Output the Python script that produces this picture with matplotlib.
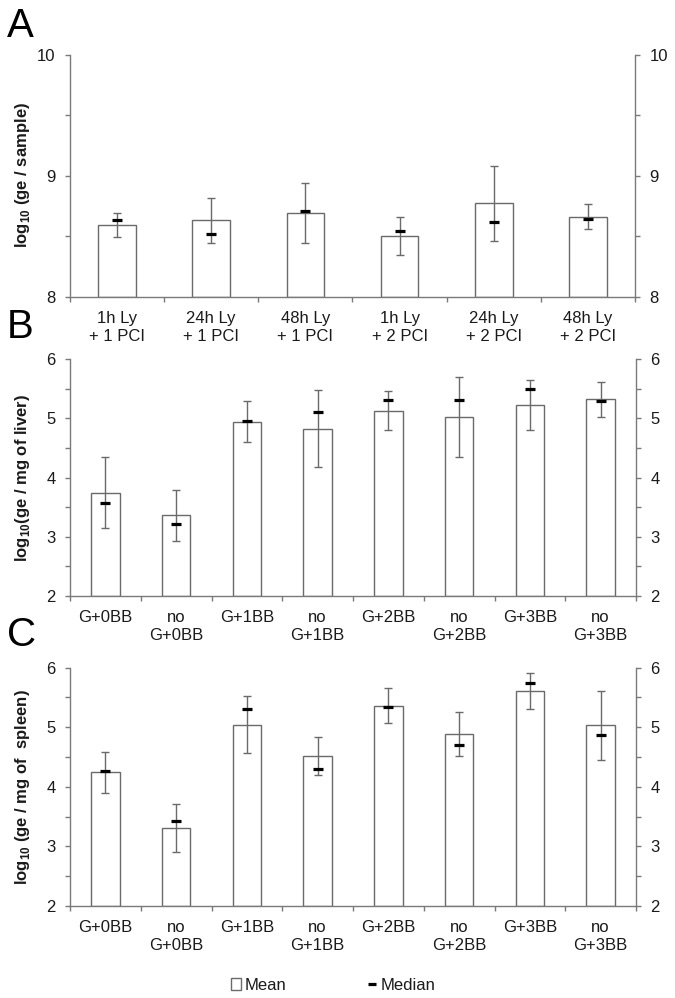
import matplotlib
matplotlib.use("Agg")
import matplotlib.pyplot as plt
import numpy as np
from matplotlib.patches import Rectangle
from matplotlib.lines import Line2D

plt.rcParams['font.family'] = ['Liberation Sans', 'DejaVu Sans']
plt.rcParams['mathtext.fontset'] = 'custom'
plt.rcParams['mathtext.rm'] = 'Liberation Sans:bold'
plt.rcParams['mathtext.bf'] = 'Liberation Sans:bold'

# ---------------- data ----------------
cats_a = ["1h Ly\n+ 1 PCI", "24h Ly\n+ 1 PCI", "48h Ly\n+ 1 PCI",
          "1h Ly\n+ 2 PCI", "24h Ly\n+ 2 PCI", "48h Ly\n+ 2 PCI"]
mean_a = [8.59, 8.63, 8.69, 8.50, 8.77, 8.66]
sd_a = [0.10, 0.185, 0.25, 0.155, 0.31, 0.105]
median_a = [8.63, 8.52, 8.71, 8.54, 8.62, 8.64]

cats_bc = ["G+0BB", "no\nG+0BB", "G+1BB", "no\nG+1BB",
           "G+2BB", "no\nG+2BB", "G+3BB", "no\nG+3BB"]
mean_b = [3.74, 3.36, 4.94, 4.82, 5.13, 5.02, 5.22, 5.32]
sd_b = [0.60, 0.43, 0.345, 0.65, 0.33, 0.67, 0.42, 0.30]
median_b = [3.57, 3.22, 4.96, 5.11, 5.30, 5.30, 5.50, 5.29]

mean_c = [4.24, 3.31, 5.04, 4.51, 5.36, 4.88, 5.61, 5.03]
sd_c = [0.35, 0.40, 0.48, 0.32, 0.29, 0.37, 0.30, 0.58]
median_c = [4.27, 3.42, 5.31, 4.29, 5.33, 4.70, 5.74, 4.86]

ylim_a = (8, 10)
ylim_bc = (2, 6)

# ---------------- style ----------------
W, H = 675, 998
AXIS_C = '#7a7a7a'
BAR_EDGE = '#6a6a6a'
ERR_C = '#6a6a6a'
TXT = '#1a1a1a'

fig = plt.figure(figsize=(W / 100, H / 100), dpi=100)


def px_axes(left, right, top, bottom):
    return fig.add_axes([left / W, 1 - bottom / H, (right - left) / W, (bottom - top) / H])


def panel(ax, cats, means, sds, medians, ylim, ylabel, label_y):
    x = np.arange(len(cats))
    ax.bar(x, [m - ylim[0] for m in means], bottom=ylim[0], width=0.4,
           color='white', edgecolor=BAR_EDGE, linewidth=1.0, zorder=2)
    ax.errorbar(x, means, yerr=sds, fmt='none', ecolor=ERR_C, elinewidth=1.0,
                capsize=2.8, capthick=1.0, zorder=3)
    ax.plot(x, medians, linestyle='none', marker='_', markersize=7,
            markeredgewidth=2.3, color='black', zorder=4)
    ax.set_xlim(-0.5, len(cats) - 0.5)
    ax.set_ylim(*ylim)
    major = np.arange(ylim[0], ylim[1] + 0.01, 1.0)
    minor = np.arange(ylim[0], ylim[1] + 0.01, 0.5)
    ax.set_yticks(major)
    ax.set_yticks(minor, minor=True)
    ax.set_yticklabels([str(int(v)) for v in major])
    ax.set_xticks(x)
    ax.set_xticklabels(cats)
    ax.set_xticks(np.arange(-0.5, len(cats)), minor=True)
    for s in ['left', 'right', 'bottom']:
        ax.spines[s].set_color(AXIS_C)
        ax.spines[s].set_linewidth(1.0)
    ax.spines['top'].set_visible(False)
    ax.tick_params(axis='x', which='major', length=0, pad=10, labelsize=12, labelcolor=TXT)
    ax.tick_params(axis='x', which='minor', length=3.5, color=AXIS_C, width=1.0, direction='out')
    ax.tick_params(axis='y', which='both', length=3.5, color=AXIS_C, width=1.0, direction='out',
                   left=True, right=True, labelleft=True, labelright=True,
                   pad=7, labelsize=12, labelcolor=TXT)
    for lab in ax.get_xticklabels():
        lab.set_linespacing(1.3)
    fig.text(23 / W, 1 - label_y / H, ylabel, rotation=90, ha='center', va='center',
             fontsize=12, fontweight='bold', color=TXT)


axA = px_axes(70, 635, 54.5, 296.7)
panel(axA, cats_a, mean_a, sd_a, median_a, ylim_a,
      r"log$_{\mathrm{10}}$ (ge / sample)", 175)

axB = px_axes(70, 636, 359, 596)
panel(axB, cats_bc, mean_b, sd_b, median_b, ylim_bc,
      r"log$_{\mathrm{10}}$(ge / mg of liver)", 478)

axC = px_axes(70, 636, 667.5, 906)
panel(axC, cats_bc, mean_c, sd_c, median_c, ylim_bc,
      r"log$_{\mathrm{10}}$ (ge / mg of  spleen)", 787)

# panel letters
for letter, yb in [("A", 37), ("B", 338), ("C", 646)]:
    fig.text(7 / W, 1 - yb / H, letter, fontsize=29, ha='left', va='baseline', color='black')

# legend
h_mean = Rectangle((0, 0), 1, 1, facecolor='white', edgecolor=BAR_EDGE, linewidth=1.0)
h_med = Line2D([], [], linestyle='none', marker='_', markersize=6, markeredgewidth=2.3, color='black')
fig.legend([h_mean, h_med], ["Mean", "Median"], loc='center', ncol=2,
           bbox_to_anchor=(333 / W, 1 - 985 / H), frameon=False, fontsize=12,
           handlelength=0.6, handleheight=0.7, handletextpad=0.2, columnspacing=4.85,
           labelcolor=TXT)

fig.savefig("out.png", dpi=100)
